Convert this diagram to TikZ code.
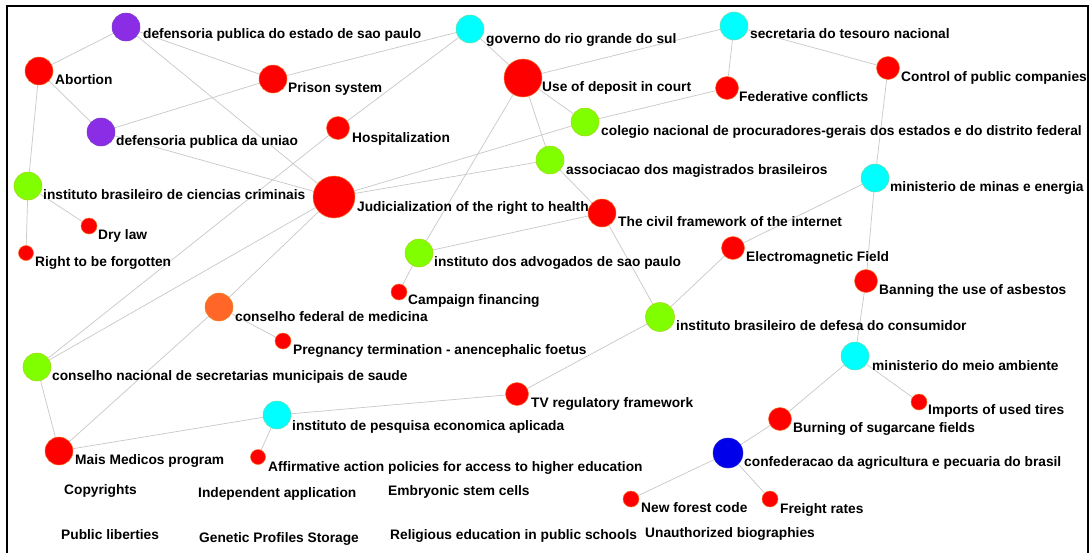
\documentclass[tikz,border=0pt]{standalone}
\usepackage{fontspec}
\setmainfont{Liberation Sans}
\usetikzlibrary{backgrounds}
\definecolor{nred}{RGB}{255,0,0}
\definecolor{nredline}{RGB}{250,110,40}
\definecolor{npurple}{RGB}{140,45,230}
\definecolor{npurpleline}{RGB}{120,60,200}
\definecolor{ncyan}{RGB}{0,255,255}
\definecolor{ncyanline}{RGB}{110,220,170}
\definecolor{ngreen}{RGB}{128,255,0}
\definecolor{ngreenline}{RGB}{170,210,20}
\definecolor{norange}{RGB}{255,102,40}
\definecolor{norangeline}{RGB}{230,140,40}
\definecolor{nblue}{RGB}{0,0,235}
\definecolor{nblueline}{RGB}{40,40,200}
\definecolor{egray}{RGB}{200,200,200}
\begin{document}
\begin{tikzpicture}[x=1pt,y=-1pt,
  dot/.style={circle,inner sep=0pt,minimum size=#1,line width=0.5pt},
  rn/.style={dot=#1,fill=nred,draw=nredline},
  pn/.style={dot=#1,fill=npurple,draw=npurpleline},
  cn/.style={dot=#1,fill=ncyan,draw=ncyanline},
  gn/.style={dot=#1,fill=ngreen,draw=ngreenline},
  on/.style={dot=#1,fill=norange,draw=norangeline},
  bn/.style={dot=#1,fill=nblue,draw=nblueline},
  lbl/.style={anchor=base west,inner sep=0pt,font=\fontsize{13.75}{15}\selectfont\bfseries},
  edge/.style={draw=egray,line width=0.7pt}]
\useasboundingbox (0,0) rectangle (1090,552);

% nodes
\node[pn=28] (defsp) at (126,27) {};
\node[lbl] (defsp-l) at (143,38) {defensoria publica do estado de sao paulo};
\node[rn=28] (abortion) at (39,71) {};
\node[lbl] (abortion-l) at (55,84) {Abortion};
\node[rn=28] (prison) at (273,79) {};
\node[lbl] (prison-l) at (288,92) {Prison system};
\node[pn=28] (defuniao) at (101,132) {};
\node[lbl] (defuniao-l) at (116,145) {defensoria publica da uniao};
\node[rn=23] (hosp) at (338,128) {};
\node[lbl] (hosp-l) at (352,142) {Hospitalization};
\node[cn=28] (gov) at (470,29) {};
\node[lbl] (gov-l) at (486,43) {governo do rio grande do sul};
\node[rn=38] (deposit) at (523,78) {};
\node[lbl] (deposit-l) at (542,91) {Use of deposit in court};
\node[cn=28] (stn) at (734,26) {};
\node[lbl] (stn-l) at (750,38) {secretaria do tesouro nacional};
\node[rn=23] (fed) at (727,88) {};
\node[lbl] (fed-l) at (739,101) {Federative conflicts};
\node[rn=23] (control) at (888,68) {};
\node[lbl] (control-l) at (901,81) {Control of public companies};
\node[gn=28] (colegio) at (585,122) {};
\node[lbl] (colegio-l) at (601,135) {colegio nacional de procuradores-gerais dos estados e do distrito federal};
\node[gn=28] (assoc) at (550,160) {};
\node[lbl] (assoc-l) at (566,174) {associacao dos magistrados brasileiros};
\node[cn=28] (minas) at (875,178) {};
\node[lbl] (minas-l) at (890,191) {ministerio de minas e energia};
\node[gn=28] (ibcc) at (28,186) {};
\node[lbl] (ibcc-l) at (43,199) {instituto brasileiro de ciencias criminais};
\node[rn=42] (jud) at (334,197) {};
\node[lbl] (jud-l) at (357,211) {Judicialization of the right to health};
\node[rn=28] (civil) at (602,213) {};
\node[lbl] (civil-l) at (618,226) {The civil framework of the internet};
\node[rn=16] (dry) at (89,226) {};
\node[lbl] (dry-l) at (98,239) {Dry law};
\node[rn=15] (right) at (26,253) {};
\node[lbl] (right-l) at (35,266) {Right to be forgotten};
\node[gn=28] (iasp) at (419,253) {};
\node[lbl] (iasp-l) at (434,266) {instituto dos advogados de sao paulo};
\node[rn=23] (emf) at (733,248) {};
\node[lbl] (emf-l) at (746,261) {Electromagnetic Field};
\node[rn=16] (campaign) at (399,292) {};
\node[lbl] (campaign-l) at (408,304) {Campaign financing};
\node[rn=23] (asbestos) at (866,281) {};
\node[lbl] (asbestos-l) at (879,294) {Banning the use of asbestos};
\node[on=28] (cfm) at (219,307) {};
\node[lbl] (cfm-l) at (235,321) {conselho federal de medicina};
\node[gn=29] (ibdc) at (660,317) {};
\node[lbl] (ibdc-l) at (676,330) {instituto brasileiro de defesa do consumidor};
\node[rn=16] (preg) at (283,341) {};
\node[lbl] (preg-l) at (293,354) {Pregnancy termination - anencephalic foetus};
\node[gn=28] (cn) at (37,367) {};
\node[lbl] (cn-l) at (52,380) {conselho nacional de secretarias municipais de saude};
\node[cn=28] (meio) at (855,356) {};
\node[lbl] (meio-l) at (872,370) {ministerio do meio ambiente};
\node[rn=23] (tv) at (517,394) {};
\node[lbl] (tv-l) at (531,407) {TV regulatory framework};
\node[rn=16] (imports) at (919,402) {};
\node[lbl] (imports-l) at (928,414) {Imports of used tires};
\node[cn=28] (ipea) at (277,415) {};
\node[lbl] (ipea-l) at (292,430) {instituto de pesquisa economica aplicada};
\node[rn=23] (burning) at (780,419) {};
\node[lbl] (burning-l) at (793,432) {Burning of sugarcane fields};
\node[rn=28] (mm) at (59,451) {};
\node[lbl] (mm-l) at (75,464) {Mais Medicos program};
\node[bn=30] (conf) at (728,453) {};
\node[lbl] (conf-l) at (744,466) {confederacao da agricultura e pecuaria do brasil};
\node[rn=15] (affirm) at (258,457) {};
\node[lbl] (affirm-l) at (268,471) {Affirmative action policies for access to higher education};
\node[rn=16] (nfc) at (631,499) {};
\node[lbl] (nfc-l) at (641,512) {New forest code};
\node[rn=16] (freight) at (770,499) {};
\node[lbl] (freight-l) at (780,513) {Freight rates};

% isolated topics
\node[lbl] (copy) at (64,494) {Copyrights};
\node[lbl] (indep) at (198,497) {Independent application};
\node[lbl] (embryo) at (388,495) {Embryonic stem cells};
\node[lbl] (publib) at (61,539) {Public liberties};
\node[lbl] (genetic) at (199,542) {Genetic Profiles Storage};
\node[lbl] (relig) at (390,539) {Religious education in public schools};
\node[lbl] (unauth) at (645,537) {Unauthorized biographies};

% edges
\begin{scope}[on background layer]
\fill[white] (0,0) rectangle (1090,552);
\foreach \a/\b in {defsp/abortion,defsp/prison,defsp/jud,abortion/defuniao,abortion/ibcc,
  defuniao/prison,defuniao/jud,prison/gov,hosp/gov,hosp/cn,jud/cn,jud/cfm,jud/colegio,
  jud/assoc,colegio/fed,gov/deposit,deposit/stn,deposit/colegio,deposit/assoc,deposit/iasp,
  stn/fed,stn/control,control/minas,minas/emf,minas/asbestos,asbestos/meio,emf/ibdc,
  assoc/civil,civil/iasp,civil/ibdc,iasp/campaign,ibcc/dry,ibcc/right,cfm/preg,cfm/mm,
  cn/mm,ibdc/tv,tv/ipea,ipea/mm,ipea/affirm,meio/imports,meio/burning,burning/conf,
  conf/nfc,conf/freight}
  \draw[edge] (\a) -- (\b);
\end{scope}

% frame
\coordinate (fbl) at (7,553);
\coordinate (ftl) at (7,6);
\coordinate (ftr) at (1088,6);
\coordinate (fbr) at (1088,553);
\draw[line width=1.5pt] (fbl) -- (ftl) -- (ftr) -- (fbr);
\end{tikzpicture}
\end{document}
